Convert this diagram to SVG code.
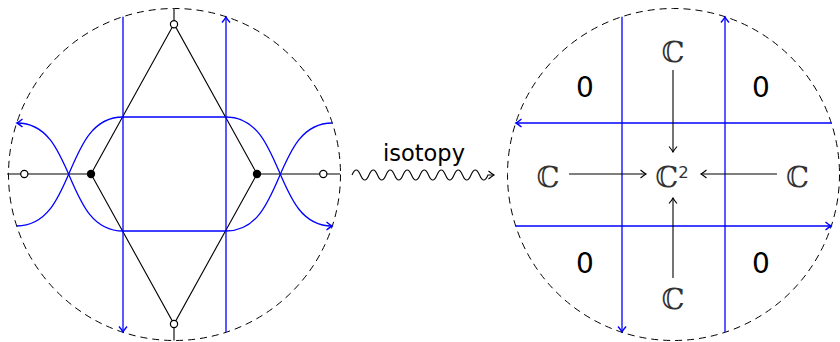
<svg xmlns="http://www.w3.org/2000/svg" width="840" height="342" viewBox="0 0 840 342">
<style>
.circ{fill:none;stroke:#000;stroke-width:1;stroke-dasharray:7 5}
.blk{fill:none;stroke:#000;stroke-width:1.1}
.blu{fill:none;stroke:#0000ff;stroke-width:1.3}
.open{fill:#fff;stroke:#000;stroke-width:1.2}
.dot{fill:#000}
.num{font-family:"DejaVu Sans","Liberation Sans",sans-serif;font-size:28px;text-anchor:middle;fill:#000}
.cc{font-family:"DejaVu Serif","DejaVu Sans",serif;font-size:29px;text-anchor:middle;fill:#333}
.lab{font-family:"DejaVu Sans","Liberation Sans",sans-serif;font-size:22.5px;text-anchor:middle;fill:#000}
</style>
<defs>
<marker id="ab" markerUnits="userSpaceOnUse" markerWidth="12" markerHeight="12" viewBox="-7 -6 8 12" refX="0" refY="0" orient="auto">
<path d="M-5.5,-4 Q-1.8,-0.9 0,0 Q-1.8,0.9 -5.5,4" fill="none" stroke="#000" stroke-width="1.1"/>
</marker>
<marker id="au" markerUnits="userSpaceOnUse" markerWidth="12" markerHeight="12" viewBox="-7 -6 8 12" refX="0" refY="0" orient="auto">
<path d="M-5.5,-4 Q-1.8,-0.9 0,0 Q-1.8,0.9 -5.5,4" fill="none" stroke="#0000ff" stroke-width="1.4"/>
</marker>
</defs>

<g id="left-diagram">
<circle class="circ" cx="174.5" cy="174.5" r="166"/>
<g id="left-graph">
<path class="blk" d="M7,174 L91,174 M257,174 L340,174 M174,8.5 L174,24 M174,325 L174,340.5"/>
<path class="blk" d="M174,24 L91,174 L174,324 L257,174 Z"/>
</g>
<g id="left-blue">
<path class="blu" d="M123,16.7 L123,332" marker-end="url(#au)"/>
<path class="blu" d="M226,332.3 L226,17" marker-end="url(#au)"/>
<path class="blu" d="M16.7,226 C76.7,226 63,117 123,117 L226,117 C286,117 272.3,226 332,226" marker-end="url(#au)"/>
<path class="blu" d="M332.3,123 C272.3,123 286,231 226,231 L123,231 C63,231 76.7,123 17,123" marker-end="url(#au)"/>
</g>
<g id="left-vertices">
<circle class="open" cx="24.3" cy="174" r="3.6"/>
<circle class="open" cx="323.3" cy="174" r="3.6"/>
<circle class="open" cx="174" cy="24.3" r="3.6"/>
<circle class="open" cx="174" cy="324" r="3.6"/>
<circle class="dot" cx="91" cy="174" r="4.2"/>
<circle class="dot" cx="257" cy="174" r="4.2"/>
</g>
</g>

<g id="isotopy-arrow">
<text class="lab" x="424" y="161">isotopy</text>
<path class="blk" d="M352,175 q4.25,-10 8.5,0 t8.5,0 t8.5,0 t8.5,0 t8.5,0 t8.5,0 t8.5,0 t8.5,0 t8.5,0 t8.5,0 t8.5,0 t8.5,0 t8.5,0 t8.5,0 t8.5,0 t8.5,0 l6,0" marker-end="url(#ab)"/>
</g>

<g id="right-diagram">
<circle class="circ" cx="673.5" cy="174.5" r="166"/>
<g id="right-blue">
<path class="blu" d="M622,16.7 L622,332" marker-end="url(#au)"/>
<path class="blu" d="M725,332.3 L725,17" marker-end="url(#au)"/>
<path class="blu" d="M831.3,123 L516,123" marker-end="url(#au)"/>
<path class="blu" d="M515.7,226 L831,226" marker-end="url(#au)"/>
</g>
<g id="n-0-tl"><text class="num" x="585" y="97">0</text></g>
<g id="n-0-tr"><text class="num" x="761" y="97">0</text></g>
<g id="n-0-bl"><text class="num" x="585" y="273">0</text></g>
<g id="n-0-br"><text class="num" x="761" y="273">0</text></g>
<g id="n-C-top"><text class="cc" x="673" y="62">ℂ</text></g>
<g id="n-C-bottom"><text class="cc" x="673" y="309">ℂ</text></g>
<g id="n-C-left"><text class="cc" x="548" y="187">ℂ</text></g>
<g id="n-C-right"><text class="cc" x="797.5" y="187">ℂ</text></g>
<g id="n-C2"><text class="cc" x="672" y="187">ℂ<tspan font-family="DejaVu Sans, sans-serif" font-size="16.5" dy="-9">2</tspan></text></g>
<g id="connectors">
<path class="blk" d="M673,70 L673,152" marker-end="url(#ab)"/>
<path class="blk" d="M673,278 L673,198" marker-end="url(#ab)"/>
<path class="blk" d="M569,174 L646,174" marker-end="url(#ab)"/>
<path class="blk" d="M777,174 L701,174" marker-end="url(#ab)"/>
</g>
</g>
</svg>
